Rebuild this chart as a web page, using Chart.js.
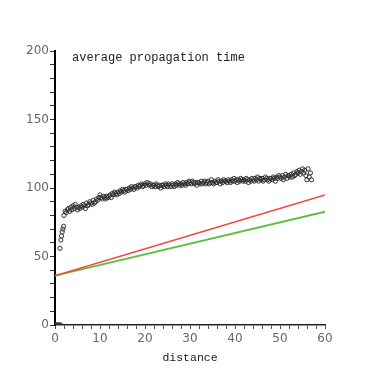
<!DOCTYPE html>
<html>
<head>
<meta charset="utf-8">
<script src="https://cdn.jsdelivr.net/npm/chart.js@4"></script>
<style>
  html, body { margin: 0; padding: 0; background: #fff; }
  #wrap { width: 382px; height: 378px; }
</style>
</head>
<body>
<div id="wrap"><canvas id="chart" width="382" height="378"></canvas></div>
<script>
// measured points: distance / average propagation time
const distances = [
  0, 0.25, 0.5, 0.75, 1, 1.25,
  1.1, 1.3, 1.45, 1.6, 1.75, 1.9,
  2, 2.25, 2.5, 2.75, 3, 3.25, 3.5, 3.75,
  4, 4.25, 4.5, 4.75, 5, 5.25, 5.5, 5.75,
  6, 6.25, 6.5, 6.75, 7, 7.25, 7.5, 7.75,
  8, 8.25, 8.5, 8.75, 9, 9.25, 9.5, 9.75,
  10, 10.25, 10.5, 10.75, 11, 11.25, 11.5, 11.75,
  12, 12.25, 12.5, 12.75, 13, 13.25, 13.5, 13.75,
  14, 14.25, 14.5, 14.75, 15, 15.25, 15.5, 15.75,
  16, 16.25, 16.5, 16.75, 17, 17.25, 17.5, 17.75,
  18, 18.25, 18.5, 18.75, 19, 19.25, 19.5, 19.75,
  20, 20.25, 20.5, 20.75, 21, 21.25, 21.5, 21.75,
  22, 22.25, 22.5, 22.75, 23, 23.25, 23.5, 23.75,
  24, 24.25, 24.5, 24.75, 25, 25.25, 25.5, 25.75,
  26, 26.25, 26.5, 26.75, 27, 27.25, 27.5, 27.75,
  28, 28.25, 28.5, 28.75, 29, 29.25, 29.5, 29.75,
  30, 30.25, 30.5, 30.75, 31, 31.25, 31.5, 31.75,
  32, 32.25, 32.5, 32.75, 33, 33.25, 33.5, 33.75,
  34, 34.25, 34.5, 34.75, 35, 35.25, 35.5, 35.75,
  36, 36.25, 36.5, 36.75, 37, 37.25, 37.5, 37.75,
  38, 38.25, 38.5, 38.75, 39, 39.25, 39.5, 39.75,
  40, 40.25, 40.5, 40.75, 41, 41.25, 41.5, 41.75,
  42, 42.25, 42.5, 42.75, 43, 43.25, 43.5, 43.75,
  44, 44.25, 44.5, 44.75, 45, 45.25, 45.5, 45.75,
  46, 46.25, 46.5, 46.75, 47, 47.25, 47.5, 47.75,
  48, 48.25, 48.5, 48.75, 49, 49.25, 49.5, 49.75,
  50, 50.25, 50.5, 50.75, 51, 51.25, 51.5, 51.75,
  52, 52.25, 52.5, 52.75, 53, 53.25, 53.5, 53.75,
  54, 54.25, 54.5, 54.75, 55, 55.25, 55.5, 55.75,
  56, 56.25, 56.5, 56.75, 57
];
const propTimes = [
  0, 0, 0, 0, 0, 0,
  56, 62, 65, 68, 70, 72,
  80, 83, 82, 84, 85, 83, 86, 84,
  87, 85, 88, 86, 84, 86, 85, 87,
  86, 88, 87, 85, 89, 87, 88, 90,
  89, 88, 91, 89, 90, 92, 91, 93,
  95, 93, 92, 94, 93, 92, 94, 93,
  94, 95, 93, 96, 95, 97, 96, 95,
  97, 96, 98, 97, 99, 98, 97, 99,
  99, 98, 100, 99, 101, 100, 99, 101,
  101, 100, 102, 101, 102, 103, 101, 102,
  103, 102, 104, 103, 102, 103, 101, 102,
  102, 101, 103, 102, 101, 102, 100, 102,
  102, 101, 103, 102, 101, 103, 102, 101,
  103, 102, 101, 103, 102, 104, 103, 102,
  103, 102, 104, 103, 102, 104, 103, 105,
  104, 103, 105, 104, 103, 104, 102, 104,
  104, 103, 105, 103, 104, 105, 103, 104,
  105, 103, 104, 106, 104, 103, 105, 104,
  104, 106, 105, 103, 105, 104, 106, 105,
  105, 104, 106, 105, 104, 106, 105, 107,
  105, 106, 104, 106, 105, 107, 106, 105,
  106, 105, 107, 106, 104, 106, 105, 107,
  106, 105, 107, 106, 108, 105, 107, 106,
  107, 105, 106, 108, 107, 106, 105, 107,
  107, 106, 108, 107, 105, 108, 107, 109,
  108, 107, 109, 106, 108, 110, 107, 109,
  109, 108, 110, 108, 111, 109, 110, 112,
  111, 113, 110, 112, 114, 111, 113, 109,
  106, 114, 108, 111, 106
];

// the two fitted lines (ends at distance 0 and 60)
const lineX = [0, 60];
const redLine = [36, 95];
const greenLine = [36, 82.7];

const titleText = 'average propagation time';
const xLabel = 'distance';

const pts = distances.map((d, i) => ({ x: d, y: propTimes[i] }));
const toXY = (ys) => lineX.map((d, i) => ({ x: d, y: ys[i] }));

const insideTitle = {
    id: 'insideTitle',
    afterDraw(chart) {
        const ctx = chart.ctx;
        const a = chart.chartArea;
        ctx.save();
        ctx.font = '12px "Liberation Mono", monospace';
        ctx.fillStyle = '#222';
        ctx.textBaseline = 'middle';
        ctx.fillText(titleText, a.left + 17, a.top + 7);
        ctx.restore();
    }
};

new Chart(document.getElementById('chart'), {
    type: 'scatter',
    data: {
        datasets: [{
            data: pts,
            pointStyle: 'circle',
            pointRadius: 2.1,
            pointBorderWidth: 1,
            pointBorderColor: '#303030',
            pointBackgroundColor: 'rgba(255,255,255,0)',
            showLine: false
        }, {
            data: toXY(redLine),
            showLine: true,
            borderColor: '#f0473c',
            borderWidth: 1.5,
            pointRadius: 0
        }, {
            data: toXY(greenLine),
            showLine: true,
            borderColor: '#5cbf3c',
            borderWidth: 1.8,
            pointRadius: 0
        }]
    },
    options: {
        responsive: false,
        animation: false,
        layout: {
            padding: { left: 0, right: 57, top: 51, bottom: 13 }
        },
        plugins: {
            legend: { display: false },
            tooltip: { enabled: false }
        },
        scales: {
            x: {
                type: 'linear',
                min: 0,
                max: 60,
                border: { color: '#222', width: 1.5 },
                grid: {
                    drawOnChartArea: false,
                    drawTicks: true,
                    tickLength: 4,
                    color: '#555'
                },
                ticks: {
                    stepSize: 2,
                    autoSkip: false,
                    maxRotation: 0,
                    padding: 3,
                    color: '#666',
                    font: { family: 'DejaVu Sans', size: 12 },
                    callback: (v) => (v % 10 === 0 ? v : '')
                },
                title: {
                    display: true,
                    text: xLabel,
                    color: '#222',
                    padding: { top: 0, bottom: 0 },
                    font: { family: 'Liberation Mono', size: 11.5 }
                },
                afterFit: (s) => { s.height = 40; }
            },
            y: {
                min: 0,
                max: 200,
                border: { color: '#000', width: 2 },
                grid: {
                    drawOnChartArea: false,
                    drawTicks: true,
                    tickLength: 5,
                    color: '#333'
                },
                ticks: {
                    stepSize: 10,
                    autoSkip: false,
                    padding: 1,
                    color: '#666',
                    font: { family: 'DejaVu Sans', size: 12 },
                    callback: (v) => (v % 50 === 0 ? v : '')
                },
                afterFit: (s) => { s.width = 55; }
            }
        }
    },
    plugins: [insideTitle]
});
</script>
</body>
</html>
